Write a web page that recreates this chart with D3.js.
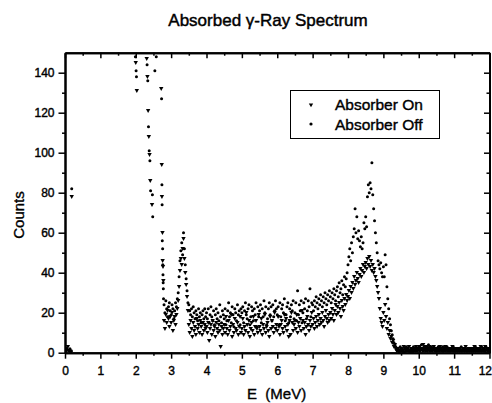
<!DOCTYPE html>
<html>
<head>
<meta charset="utf-8">
<script src="https://cdn.jsdelivr.net/npm/d3@7/dist/d3.min.js"></script>
<style>
  html, body { margin: 0; padding: 0; background: #fff; }
  svg { display: block; }
  text { font-family: "Liberation Sans", Arial, Helvetica, sans-serif; fill: #000; }
</style>
</head>
<body>
<svg id="chart" width="492" height="403"></svg>
<script>
// ---------------- data ----------------
const chartTitle = "Absorbed \u03b3-Ray Spectrum";
const seriesNames = ["Absorber On", "Absorber Off"];
const xTickLabels = [0, 1, 2, 3, 4, 5, 6, 7, 8, 9, 10, 11, 12];
const yTickLabels = [0, 20, 40, 60, 80, 100, 120, 140];

// channel calibration of the uniform part of the spectrum (MeV)
const channelStart = 2.8;
const channelStep = 0.025;

// low-energy / steep-edge points (explicit energies)
const onLowEnergy = [0.00, 0.04, 0.08, 0.12, 0.16, 0.19, 2.00, 2.03, 2.31, 2.33, 2.35, 2.37, 2.39, 2.41, 2.46, 2.72, 2.735, 2.74, 2.755, 2.76, 2.77, 2.78];
const onLowCounts = [2, 1, 3, 1, 0, 78, 145, 131, 147, 138, 121, 108, 99, 86, 74, 132, 94, 78, 60, 46, 43, 36];
const offLowEnergy = [0.02, 0.06, 0.10, 0.14, 0.18, 0.19, 1.99, 2.01, 2.02, 2.32, 2.34, 2.36, 2.38, 2.40, 2.42, 2.47, 2.48, 2.54, 2.58, 2.73, 2.74, 2.745, 2.75, 2.76, 2.765, 2.77, 2.775, 2.78, 2.785];
const offLowCounts = [1, 2, 1, 2, 1, 82, 148, 141, 138, 144, 136, 113, 101, 96, 81, 79, 68, 141, 148, 127, 84, 74, 56, 52, 44, 39, 35, 32, 27];

// uniform channels from 2.8 MeV to 12.0 MeV
const onCounts = [
  16, 12, 19, 15, 21, 17, 13, 18,
  15, 20, 11, 16, 18, 14, 19, 22,
  26, 33, 41, 47, 44, 52, 57, 47, 40, 34, 28, 21,
  14, 10, 16, 12, 8, 15, 11, 13, 9, 17, 12, 14, 10, 16, 13, 9, 15, 11, 14, 12,
  13, 10, 15, 6, 12, 14, 9, 16, 11, 13, 8, 15, 12, 10, 14, 11, 3, 13, 9, 12,
  14, 10, 18, 12, 9, 16, 11, 13, 19, 8, 14, 10, 17, 12, 11, 15, 9, 13, 18, 10,
  12, 17, 9, 13, 11, 20, 14, 10, 16, 8, 12, 15, 11, 18, 9, 13, 16, 12, 10, 19,
  13, 11, 17, 9, 14, 12, 19, 10, 13, 15, 11, 8, 18, 12, 16, 13, 10, 20, 12, 14,
  11, 18, 13, 9, 14, 16, 12, 10, 19, 13, 17, 11, 14, 8, 16, 9, 20, 15, 11, 14,
  16, 12, 19, 10, 15, 13, 17, 11, 21, 16, 12, 15, 9, 13, 18, 14, 11, 16, 13, 20,
  14, 17, 12, 15, 18, 13, 16, 19, 14, 17, 15, 20, 16, 13, 18, 21, 17, 15, 19, 16,
  20, 17, 22, 19, 16, 21, 24, 19, 23, 20, 25, 22, 18, 26, 23, 21, 27, 24, 29, 26,
  28, 31, 27, 33, 30, 35, 32, 38, 34, 36, 40, 37, 35, 39, 42, 38, 41, 44, 40, 43,
  45, 42, 47, 44, 48, 43, 46, 41, 44, 40, 42, 38, 36, 33, 30, 27, 22, 17, 15, 13,
  20, 16, 24, 18, 12, 15, 9, 11, 7, 8, 5, 6, 3, 4, 2, 1, 2, 1, 0, 1,
  2, 1, 1, 3, 0, 2, 1, 2, 1, 3, 1, 1, 2, 0, 1, 2, 1, 3, 2, 1,
  2, 3, 1, 2, 1, 4, 2, 1, 3, 2, 1, 2, 3, 1, 2, 2, 1, 3, 2, 1,
  1, 2, 2, 1, 3, 1, 2, 1, 1, 2, 3, 1, 2, 1, 2, 1, 1, 2, 3, 1,
  2, 1, 1, 2, 1, 2, 1, 2, 1, 1, 2, 2, 1, 3, 1, 1, 2, 1, 2, 1,
  1, 2, 1, 3, 1, 2, 2, 1, 2, 1, 3, 1, 2, 1, 2, 3, 1, 2, 2, 1,
  1
];
const offCounts = [
  24, 20, 26, 22, 18, 23, 25, 21,
  19, 24, 22, 17, 21, 25, 23, 27,
  30, 38, 46, 51, 55, 49, 60, 52, 44, 37, 31, 25,
  24, 21, 19, 22, 18, 23, 20, 17, 21, 19, 16, 22, 18, 20, 15, 19, 21, 17, 22, 18,
  20, 17, 22, 15, 19, 23, 18, 16, 21, 14, 19, 22, 17, 20, 16, 24, 18, 15, 21, 19,
  17, 22, 14, 16, 21, 25, 18, 20, 15, 23, 19, 13, 22, 20, 16, 24, 19, 21, 14, 22,
  20, 23, 15, 21, 25, 19, 17, 22, 24, 14, 18, 23, 21, 16, 22, 19, 25, 13, 23, 18,
  21, 24, 15, 22, 18, 26, 20, 23, 14, 17, 22, 25, 19, 23, 16, 24, 18, 21, 26, 22,
  19, 23, 14, 25, 18, 22, 24, 20, 27, 16, 19, 23, 25, 15, 22, 18, 24, 21, 26, 17,
  20, 25, 16, 31, 19, 24, 21, 26, 15, 20, 25, 22, 27, 17, 21, 26, 23, 32, 18, 25,
  24, 21, 26, 23, 28, 25, 22, 27, 24, 29, 26, 23, 28, 25, 30, 27, 24, 29, 26, 31,
  28, 25, 30, 27, 32, 29, 26, 31, 33, 28, 35, 30, 32, 36, 29, 34, 38, 33, 37, 40,
  44, 48, 52, 46, 55, 50, 58, 62, 72, 60, 68, 57, 61, 56, 53, 58, 52, 55, 65, 62,
  68, 63, 78, 84, 80, 85, 82, 95, 79, 72, 66, 60, 55, 50, 46, 44, 42, 45, 40, 38,
  43, 38, 49, 44, 33, 27, 22, 17, 14, 11, 9, 7, 5, 4, 3, 2, 1, 2, 1, 3,
  1, 2, 1, 0, 2, 1, 3, 1, 2, 1, 0, 2, 1, 2, 3, 1, 2, 1, 1, 2,
  3, 1, 2, 4, 2, 1, 3, 2, 1, 3, 2, 4, 1, 2, 3, 1, 2, 3, 1, 2,
  2, 1, 3, 1, 2, 2, 1, 3, 1, 2, 1, 2, 3, 1, 1, 2, 1, 2, 1, 3,
  1, 2, 1, 2, 1, 1, 2, 1, 3, 1, 2, 1, 1, 2, 1, 2, 1, 1, 2, 1,
  2, 1, 2, 1, 3, 1, 2, 1, 2, 2, 1, 3, 1, 2, 2, 1, 3, 2, 1, 2,
  2
];

// ---------------- build points ----------------
function buildSeries(lowE, lowC, counts) {
  const pts = lowE.map((e, i) => ({ e: e, c: lowC[i] }));
  counts.forEach((c, i) => pts.push({ e: channelStart + i * channelStep, c: c }));
  return pts;
}
const onPoints = buildSeries(onLowEnergy, onLowCounts, onCounts);
const offPoints = buildSeries(offLowEnergy, offLowCounts, offCounts);

// ---------------- drawing ----------------
const svg = d3.select("#chart");
const pLeft = 65, pRight = 489.5, pTop = 52.7, pBottom = 352.7;
const x = d3.scaleLinear().domain([0, 12]).range([pLeft, pRight]);
const y = d3.scaleLinear().domain([0, 150]).range([pBottom, pTop]);

const triPath = "M-2.2,-1.6L2.2,-1.6L0,2.2Z";

// title
svg.append("text")
  .attr("x", 268).attr("y", 26)
  .attr("text-anchor", "middle")
  .style("font-size", "17px")
  .attr("stroke", "#000").attr("stroke-width", 0.45)
  .text(chartTitle);

// points (clipped to plot area)
svg.append("clipPath").attr("id", "clip")
  .append("rect").attr("x", pLeft).attr("y", pTop).attr("width", pRight - pLeft).attr("height", pBottom - pTop);
const plot = svg.append("g").attr("clip-path", "url(#clip)");

plot.selectAll("path.on").data(onPoints).enter().append("path")
  .attr("class", "on")
  .attr("d", triPath)
  .attr("transform", d => `translate(${x(d.e)},${y(d.c)})`)
  .attr("fill", "#000");

plot.selectAll("circle.off").data(offPoints).enter().append("circle")
  .attr("class", "off")
  .attr("cx", d => x(d.e)).attr("cy", d => y(d.c))
  .attr("r", 1.5)
  .attr("fill", "#000");

// axes
const minorX = d3.range(0.5, 12, 1);
const minorY = d3.range(10, 150, 20);

function styleAxis(g) {
  g.selectAll("path.domain").attr("stroke", "#000").attr("stroke-width", 2);
  g.selectAll(".tick line").attr("stroke", "#000").attr("stroke-width", 1.5);
  g.selectAll(".tick text").style("font-size", "12px")
    .attr("stroke", "#000").attr("stroke-width", 0.4).attr("font-family", null);
}

// bottom
svg.append("g").attr("transform", `translate(0,${pBottom})`)
  .call(d3.axisBottom(x).tickValues(xTickLabels).tickFormat(d3.format("d")).tickSizeInner(6).tickSizeOuter(0).tickPadding(8))
  .call(styleAxis)
  .call(g => g.selectAll(".tick text").filter(d => d === 12).attr("text-anchor", "end").attr("x", 2));
svg.append("g").attr("transform", `translate(0,${pBottom})`)
  .call(d3.axisBottom(x).tickValues(minorX).tickFormat("").tickSizeInner(3).tickSizeOuter(0))
  .call(styleAxis);
// top (inward ticks)
svg.append("g").attr("transform", `translate(0,${pTop})`)
  .call(d3.axisTop(x).tickValues(xTickLabels).tickFormat("").tickSizeInner(-5.5).tickSizeOuter(0))
  .call(styleAxis);
svg.append("g").attr("transform", `translate(0,${pTop})`)
  .call(d3.axisTop(x).tickValues(minorX).tickFormat("").tickSizeInner(-3).tickSizeOuter(0))
  .call(styleAxis);
// left
svg.append("g").attr("transform", `translate(${pLeft},0)`)
  .call(d3.axisLeft(y).tickValues(yTickLabels).tickFormat(d3.format("d")).tickSizeInner(6.5).tickSizeOuter(0).tickPadding(4))
  .call(styleAxis);
svg.append("g").attr("transform", `translate(${pLeft},0)`)
  .call(d3.axisLeft(y).tickValues(minorY).tickFormat("").tickSizeInner(3).tickSizeOuter(0))
  .call(styleAxis);
// right (inward ticks)
svg.append("g").attr("transform", `translate(${pRight},0)`)
  .call(d3.axisRight(y).tickValues(yTickLabels).tickFormat("").tickSizeInner(-5.5).tickSizeOuter(0))
  .call(styleAxis);
svg.append("g").attr("transform", `translate(${pRight},0)`)
  .call(d3.axisRight(y).tickValues(minorY).tickFormat("").tickSizeInner(-3).tickSizeOuter(0))
  .call(styleAxis);

// axis titles
svg.append("text")
  .attr("transform", "translate(24,215) rotate(-90)")
  .attr("text-anchor", "middle")
  .style("font-size", "15px")
  .attr("stroke", "#000").attr("stroke-width", 0.35)
  .text("Counts");
svg.append("text")
  .attr("x", 247).attr("y", 399)
  .style("font-size", "15px")
  .style("white-space", "pre")
  .attr("stroke", "#000").attr("stroke-width", 0.35)
  .text("E  (MeV)");

// legend
const lg = svg.append("g");
lg.append("rect").attr("x", 290.5).attr("y", 90.5).attr("width", 149).attr("height", 48)
  .attr("fill", "#fff").attr("stroke", "#000").attr("stroke-width", 1);
lg.append("path").attr("d", triPath).attr("transform", "translate(311,105)").attr("fill", "#000");
lg.append("circle").attr("cx", 311).attr("cy", 124).attr("r", 1.6).attr("fill", "#000");
lg.append("text").attr("x", 335).attr("y", 110).style("font-size", "15.5px")
  .attr("stroke", "#000").attr("stroke-width", 0.4).text(seriesNames[0]);
lg.append("text").attr("x", 335).attr("y", 130).style("font-size", "15.5px")
  .attr("stroke", "#000").attr("stroke-width", 0.4).text(seriesNames[1]);
</script>
</body>
</html>
